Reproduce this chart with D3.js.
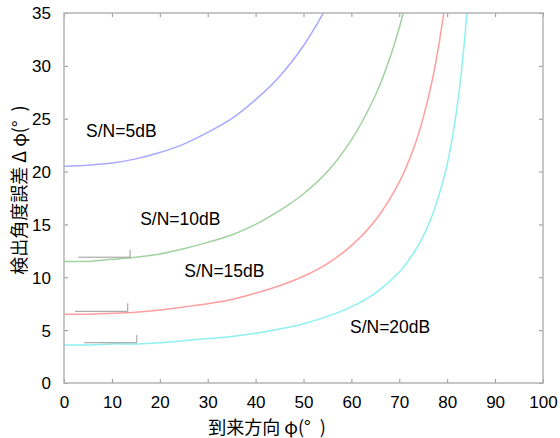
<!DOCTYPE html>
<html>
<head>
<meta charset="utf-8">
<script src="https://cdn.jsdelivr.net/npm/d3@7"></script>
<style>
  html, body { margin: 0; padding: 0; background: #fff; }
  svg { display: block; }
</style>
</head>
<body>
<svg id="chart" width="560" height="438"></svg>
<script>
// ---- data ----
const xTicks = [0, 10, 20, 30, 40, 50, 60, 70, 80, 90, 100];
const yTicks = [0, 5, 10, 15, 20, 25, 30, 35];

const phi5  = [0, 5, 10, 15, 20, 25, 30, 35, 40, 45, 50, 53, 55];
const err5  = [20.5, 20.6, 20.8, 21.2, 21.8, 22.6, 23.7, 25.0, 26.8, 29.0, 31.9, 34.1, 35.7];

const phi10 = [0, 5, 10, 15, 20, 25, 30, 35, 40, 45, 50, 55, 60, 65, 68, 70, 72];
const err10 = [11.5, 11.5, 11.7, 11.9, 12.2, 12.7, 13.3, 14.0, 15.0, 16.3, 17.9, 20.0, 23.0, 27.2, 30.7, 33.6, 37.2];

const phi15 = [0, 5, 10, 15, 20, 25, 30, 35, 40, 45, 50, 55, 60, 65, 70, 73, 75, 77, 79, 80];
const err15 = [6.5, 6.5, 6.6, 6.7, 6.9, 7.2, 7.5, 7.9, 8.5, 9.2, 10.1, 11.3, 13.0, 15.4, 19.0, 22.2, 25.1, 28.9, 34.1, 37.4];

const phi20 = [0, 5, 10, 15, 20, 25, 30, 35, 40, 45, 50, 55, 60, 65, 70, 73, 75, 77, 79, 80, 81, 82, 83, 84, 85];
const err20 = [3.6, 3.6, 3.7, 3.7, 3.8, 4.0, 4.2, 4.4, 4.7, 5.1, 5.6, 6.3, 7.2, 8.5, 10.5, 12.3, 13.9, 16.0, 18.9, 20.7, 23.0, 25.9, 29.6, 34.4, 41.3];

const seriesNames  = ["S/N=5dB", "S/N=10dB", "S/N=15dB", "S/N=20dB"];
const seriesColors = ["#a8a8ff", "#9fd29f", "#ff9e9e", "#8ef0f0"];
const labelX = [4.6, 15.9, 25.1, 59.7];
const labelY = [23.3, 14.95, 10.06, 4.73];

// stray gray marks near the start of three curves (as in the reference)
const markX0 = [3.0, 2.3, 4.2];
const markX1 = [13.8, 13.3, 15.2];
const markY0 = [11.9, 6.78, 3.81];
const markY1 = [12.6, 7.54, 4.54];

const xTitle = "到来方向 φ(°\u2002)";
const yTitle = "検出角度誤差 Δ φ(°\u2002)";

// ---- layout ----
const svg = d3.select("#chart");
const L = 64, R = 543, T = 13, B = 383;
const x = d3.scaleLinear().domain([0, 100]).range([L, R]);
const y = d3.scaleLinear().domain([0, 35]).range([B, T]);

const axisColor = "#b4b4b4";
const tickFont = "'Liberation Sans', Arial, sans-serif";
const cjkFont = "'Noto Sans CJK JP', 'Noto Sans CJK SC', sans-serif";

svg.append("defs").append("clipPath").attr("id", "plotclip")
  .append("rect").attr("x", L).attr("y", T).attr("width", R - L).attr("height", B - T);

// curves
const series = [[phi5, err5], [phi10, err10], [phi15, err15], [phi20, err20]];
const line = d3.line().x(d => x(d[0])).y(d => y(d[1])).curve(d3.curveCatmullRom.alpha(0.5));
const g = svg.append("g").attr("clip-path", "url(#plotclip)");
series.forEach((s, i) => {
  const pts = s[0].map((v, j) => [v, s[1][j]]);
  g.append("path").datum(pts)
    .attr("d", line)
    .attr("fill", "none")
    .attr("stroke", seriesColors[i])
    .attr("stroke-width", 1.5);
});

// stray marks
markX0.forEach((v, i) => {
  svg.append("path")
    .attr("d", `M${x(v)},${y(markY0[i])}H${x(markX1[i])}V${y(markY1[i])}`)
    .attr("fill", "none").attr("stroke", "#9a9a9a").attr("stroke-width", 1);
});

// axes (box with inward ticks)
const ax = svg.append("g");
const axBottom = ax.append("g").attr("transform", `translate(0,${B})`)
  .call(d3.axisBottom(x).tickValues(xTicks).tickSize(-4).tickPadding(13).tickFormat(d3.format("d")));
const axTop = ax.append("g").attr("transform", `translate(0,${T})`)
  .call(d3.axisTop(x).tickValues(xTicks).tickSize(-4).tickFormat(""));
const axLeft = ax.append("g").attr("transform", `translate(${L},0)`)
  .call(d3.axisLeft(y).tickValues(yTicks).tickSize(-4).tickPadding(13).tickFormat(d3.format("d")));
const axRight = ax.append("g").attr("transform", `translate(${R},0)`)
  .call(d3.axisRight(y).tickValues(yTicks).tickSize(-4).tickFormat(""));

[axBottom, axTop, axLeft, axRight].forEach(a => {
  a.select(".domain").remove();
  a.selectAll(".tick line").attr("stroke", "#909090").attr("stroke-width", 1);
  a.selectAll(".tick text").attr("fill", "#000").attr("font-family", tickFont).attr("font-size", 17);
});
axLeft.selectAll(".tick text").attr("dy", "0.35em");
axBottom.selectAll(".tick text").attr("dy", "0.71em");

ax.append("rect").attr("x", L).attr("y", T).attr("width", R - L).attr("height", B - T)
  .attr("fill", "none").attr("stroke", axisColor).attr("stroke-width", 1.5);

// curve labels
seriesNames.forEach((n, i) => {
  svg.append("text").attr("x", x(labelX[i])).attr("y", y(labelY[i]))
    .attr("font-family", tickFont).attr("font-size", 17.5).attr("fill", "#000")
    .text(n);
});

// axis titles
svg.append("text").attr("x", 267).attr("y", 434)
  .attr("text-anchor", "middle")
  .attr("font-family", cjkFont).attr("font-size", 18).attr("fill", "#000")
  .style("white-space", "pre")
  .text(xTitle);
svg.append("text")
  .attr("transform", `translate(26,${(T + B) / 2 - 8}) rotate(-90)`)
  .attr("text-anchor", "middle")
  .attr("font-family", cjkFont).attr("font-size", 18).attr("fill", "#000")
  .style("white-space", "pre")
  .text(yTitle);
</script>
</body>
</html>
